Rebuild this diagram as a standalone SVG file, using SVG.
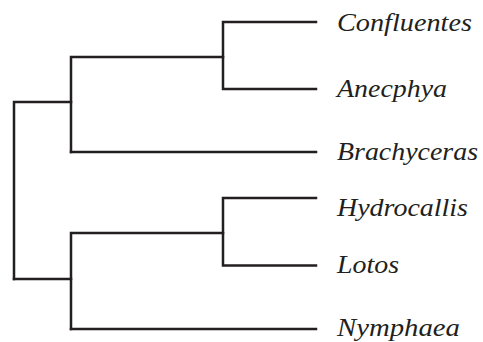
<svg xmlns="http://www.w3.org/2000/svg" width="483" height="342" viewBox="0 0 483 342">
<style>
.br{fill:none;stroke:#231f20;stroke-width:2.5;stroke-linecap:square;stroke-linejoin:miter}
.lb{font-family:"Liberation Serif","DejaVu Serif",serif;font-style:italic;font-size:24.5px;fill:#231f20}
</style>
<rect width="483" height="342" fill="#ffffff"/>
<g id="connectors">
<path class="br" d="M14,279 V102 H71"/>
<path class="br" d="M14,279 H71"/>
<path class="br" d="M71,152 V57 H223"/>
<path class="br" d="M71,152 H316"/>
<path class="br" d="M316,22 H223 V89 H316"/>
<path class="br" d="M71,329 V233 H223"/>
<path class="br" d="M71,329 H316"/>
<path class="br" d="M316,198 H223 V265.5 H316"/>
</g>
<g id="confluentes"><text class="lb" x="337" y="31" textLength="135" lengthAdjust="spacingAndGlyphs">Confluentes</text></g>
<g id="anecphya"><text class="lb" x="337" y="97" textLength="110" lengthAdjust="spacingAndGlyphs">Anecphya</text></g>
<g id="brachyceras"><text class="lb" x="337" y="160" textLength="141" lengthAdjust="spacingAndGlyphs">Brachyceras</text></g>
<g id="hydrocallis"><text class="lb" x="337" y="216" textLength="131" lengthAdjust="spacingAndGlyphs">Hydrocallis</text></g>
<g id="lotos"><text class="lb" x="337" y="273" textLength="62" lengthAdjust="spacingAndGlyphs">Lotos</text></g>
<g id="nymphaea"><text class="lb" x="337" y="336" textLength="123" lengthAdjust="spacingAndGlyphs">Nymphaea</text></g>
</svg>
